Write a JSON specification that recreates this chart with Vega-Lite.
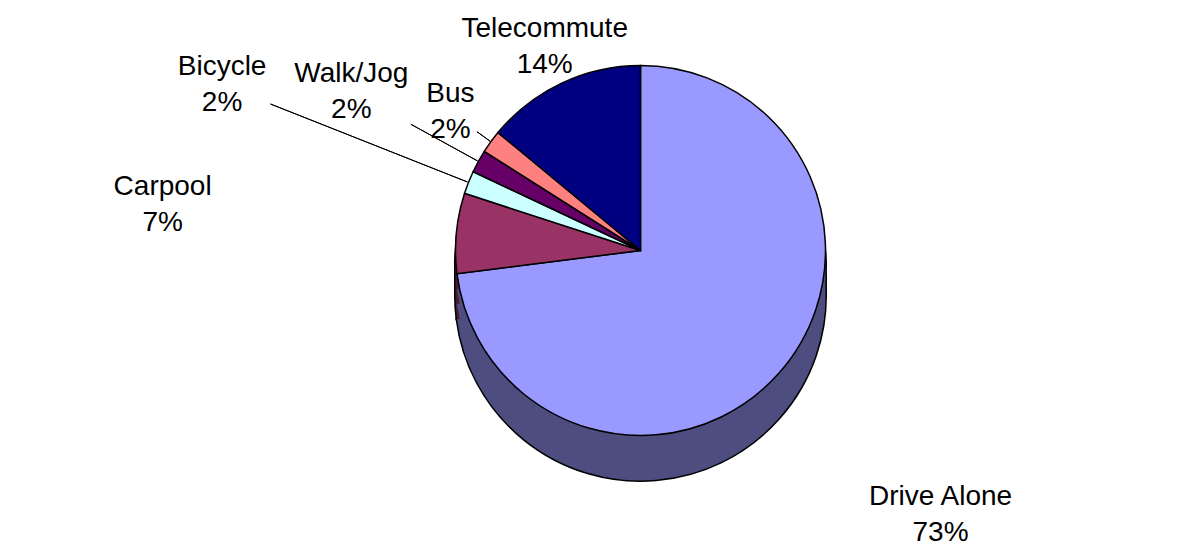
{
  "$schema": "https://vega.github.io/schema/vega-lite/v6.json",
  "autosize": {"type": "none"},
  "width": 1081,
  "height": 501,
  "padding": {"left": 100, "right": 0, "top": 0, "bottom": 58},
  "background": "white",
  "config": {"view": {"stroke": null}},
  "data": {
    "values": [
      {"name": "Drive Alone", "value": 73, "rank": 1, "label": "Drive Alone\n73%"},
      {"name": "Carpool", "value": 7, "rank": 2, "label": "Carpool\n7%"},
      {"name": "Bicycle", "value": 2, "rank": 3, "label": "Bicycle\n2%"},
      {"name": "Walk/Jog", "value": 2, "rank": 4, "label": "Walk/Jog\n2%"},
      {"name": "Bus", "value": 2, "rank": 5, "label": "Bus\n2%"},
      {"name": "Telecommute", "value": 14, "rank": 6, "label": "Telecommute\n14%"}
    ]
  },
  "transform": [
    {"stack": "value", "groupby": [], "sort": [{"field": "rank", "order": "ascending"}], "as": ["v0", "v1"]},
    {"calculate": "(datum.v0 + datum.v1) / 2", "as": "mid"}
  ],
  "layer": [
    {
      "encoding": {
        "theta": {"field": "v0", "type": "quantitative", "stack": null, "scale": {"domain": [0, 100]}},
        "theta2": {"field": "v1"}
      },
      "layer": [
        {
          "mark": {"type": "arc", "outerRadius": 185, "yOffset": 45, "stroke": "black", "strokeWidth": 3},
          "encoding": {"color": {"field": "name", "type": "nominal", "legend": null,
            "scale": {"domain": ["Drive Alone", "Carpool", "Bicycle", "Walk/Jog", "Bus", "Telecommute"],
                      "range": ["#4d4d80", "#4d1a33", "#668080", "#330033", "#804040", "#000040"]}}}
        },
        {
          "mark": {"type": "arc", "outerRadius": 185, "yOffset": 30, "stroke": "black", "strokeWidth": 3},
          "encoding": {"color": {"field": "name", "type": "nominal", "legend": null,
            "scale": {"domain": ["Drive Alone", "Carpool", "Bicycle", "Walk/Jog", "Bus", "Telecommute"],
                      "range": ["#4d4d80", "#4d1a33", "#668080", "#330033", "#804040", "#000040"]}}}
        },
        {
          "mark": {"type": "arc", "outerRadius": 185, "yOffset": 15, "stroke": "black", "strokeWidth": 3},
          "encoding": {"color": {"field": "name", "type": "nominal", "legend": null,
            "scale": {"domain": ["Drive Alone", "Carpool", "Bicycle", "Walk/Jog", "Bus", "Telecommute"],
                      "range": ["#4d4d80", "#4d1a33", "#668080", "#330033", "#804040", "#000040"]}}}
        },
        {
          "mark": {"type": "arc", "outerRadius": 185, "yOffset": 45, "strokeWidth": 0},
          "encoding": {"color": {"field": "name", "type": "nominal", "legend": null,
            "scale": {"domain": ["Drive Alone", "Carpool", "Bicycle", "Walk/Jog", "Bus", "Telecommute"],
                      "range": ["#4d4d80", "#4d1a33", "#668080", "#330033", "#804040", "#000040"]}}}
        },
        {
          "mark": {"type": "arc", "outerRadius": 185, "yOffset": 30, "strokeWidth": 0},
          "encoding": {"color": {"field": "name", "type": "nominal", "legend": null,
            "scale": {"domain": ["Drive Alone", "Carpool", "Bicycle", "Walk/Jog", "Bus", "Telecommute"],
                      "range": ["#4d4d80", "#4d1a33", "#668080", "#330033", "#804040", "#000040"]}}}
        },
        {
          "mark": {"type": "arc", "outerRadius": 185, "yOffset": 15, "strokeWidth": 0},
          "encoding": {"color": {"field": "name", "type": "nominal", "legend": null,
            "scale": {"domain": ["Drive Alone", "Carpool", "Bicycle", "Walk/Jog", "Bus", "Telecommute"],
                      "range": ["#4d4d80", "#4d1a33", "#668080", "#330033", "#804040", "#000040"]}}}
        },
        {
          "mark": {"type": "arc", "outerRadius": 185, "stroke": "black", "strokeWidth": 1.5},
          "encoding": {"color": {"field": "name", "type": "nominal", "legend": null,
            "scale": {"domain": ["Drive Alone", "Carpool", "Bicycle", "Walk/Jog", "Bus", "Telecommute"],
                      "range": ["#9999ff", "#993366", "#ccffff", "#660066", "#ff8080", "#000080"]}}}
        }
      ],
      "resolve": {"scale": {"color": "independent"}}
    },
    {
      "encoding": {
        "theta": {"field": "mid", "type": "quantitative", "stack": null, "scale": {"domain": [0, 100]}},
        "theta2": {"field": "mid"}
      },
      "layer": [
        {
          "transform": [{"filter": "datum.name === 'Bicycle'"}],
          "mark": {"type": "arc", "innerRadius": 186, "outerRadius": 398, "stroke": "black", "strokeWidth": 1, "fill": null}
        },
        {
          "transform": [{"filter": "datum.name === 'Walk/Jog'"}],
          "mark": {"type": "arc", "innerRadius": 186, "outerRadius": 262, "stroke": "black", "strokeWidth": 1, "fill": null}
        },
        {
          "transform": [{"filter": "datum.name === 'Bus'"}],
          "mark": {"type": "arc", "innerRadius": 186, "outerRadius": 202, "stroke": "black", "strokeWidth": 1, "fill": null}
        }
      ]
    },
    {
      "encoding": {
        "theta": {"field": "mid", "type": "quantitative", "stack": null, "scale": {"domain": [0, 100]}},
        "text": {"field": "label", "type": "nominal"}
      },
      "layer": [
        {
          "transform": [{"filter": "datum.name === 'Drive Alone'"}],
          "mark": {"type": "text", "radius": 400, "dy": -18, "font": "Liberation Sans, Arial, sans-serif", "fontSize": 28, "lineBreak": "\n", "lineHeight": 36, "align": "center", "baseline": "middle", "color": "black"}
        },
        {
          "transform": [{"filter": "datum.name === 'Carpool'"}],
          "mark": {"type": "text", "radius": 480, "dy": -18, "font": "Liberation Sans, Arial, sans-serif", "fontSize": 28, "lineBreak": "\n", "lineHeight": 36, "align": "center", "baseline": "middle", "color": "black"}
        },
        {
          "transform": [{"filter": "datum.name === 'Bicycle'"}],
          "mark": {"type": "text", "radius": 450, "dy": -18, "font": "Liberation Sans, Arial, sans-serif", "fontSize": 28, "lineBreak": "\n", "lineHeight": 36, "align": "center", "baseline": "middle", "color": "black"}
        },
        {
          "transform": [{"filter": "datum.name === 'Walk/Jog'"}],
          "mark": {"type": "text", "radius": 330, "dy": -18, "font": "Liberation Sans, Arial, sans-serif", "fontSize": 28, "lineBreak": "\n", "lineHeight": 36, "align": "center", "baseline": "middle", "color": "black"}
        },
        {
          "transform": [{"filter": "datum.name === 'Bus'"}],
          "mark": {"type": "text", "radius": 235, "dy": -18, "font": "Liberation Sans, Arial, sans-serif", "fontSize": 28, "lineBreak": "\n", "lineHeight": 36, "align": "center", "baseline": "middle", "color": "black"}
        },
        {
          "transform": [{"filter": "datum.name === 'Telecommute'"}],
          "mark": {"type": "text", "radius": 225, "dy": -18, "font": "Liberation Sans, Arial, sans-serif", "fontSize": 28, "lineBreak": "\n", "lineHeight": 36, "align": "center", "baseline": "middle", "color": "black"}
        }
      ]
    }
  ],
  "resolve": {"scale": {"color": "independent"}}
}
